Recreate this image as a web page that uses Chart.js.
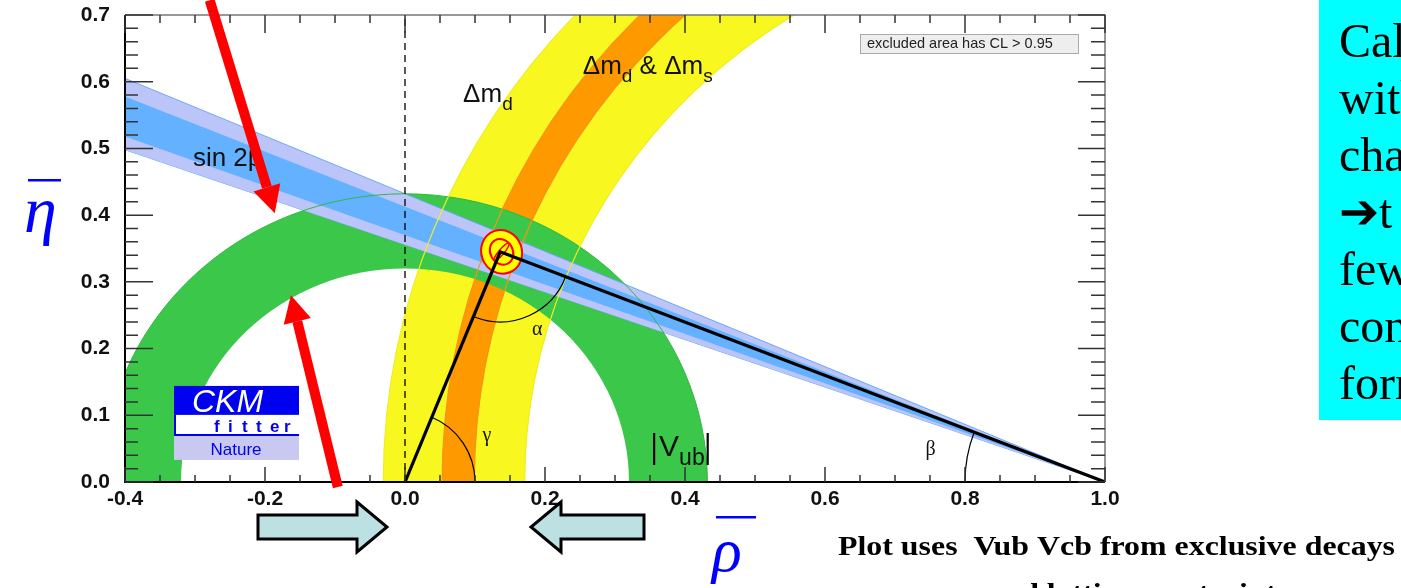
<!DOCTYPE html>
<html lang="en">
<head>
<meta charset="UTF-8">
<title>CKM unitarity triangle</title>
<style>
  body { margin: 0; background: #fff; }
  #wrap { position: relative; width: 1401px; height: 588px; overflow: hidden; }
</style>
<script src="https://cdn.jsdelivr.net/npm/chart.js"></script>
</head>
<body>
<div id="wrap"><canvas id="chart" width="1401" height="588"></canvas></div>
<script>
// axis ticks
const rhoTicks = [-0.4, -0.2, 0.0, 0.2, 0.4, 0.6, 0.8, 1.0];
const etaTicks = [0.0, 0.1, 0.2, 0.3, 0.4, 0.5, 0.6, 0.7];

// rings, radii as [along rho, along eta]
const vubCenter = [0, 0];
const vubInner = [0.320, 0.320];
const vubOuter = [0.432, 0.432];
const dmdCenter = [1, 0];
const dmdInner = [0.829, 0.829];
const dmdOuter = [1.031, 1.031];
const dmsInner = [0.901, 0.938];
const dmsOuter = [0.947, 0.982];

// sin 2beta wedge: eta of each edge at rho = -0.4, all edges meet at (1,0)
const sin2bOuter = [0.605, 0.498];
const sin2bInner = [0.578, 0.518];

// apex of the triangle and the fit contours [rx, ry, tilt in degrees]
const apex = [0.136, 0.345];
const fitCenter = [0.138, 0.345];
const fitContours = [[0.029, 0.033, -20], [0.016, 0.020, -30], [0.016, 0.004, -50]];

const SANS = '"Liberation Sans", Arial, sans-serif';
const SERIF = '"Liberation Serif", "Times New Roman", serif';

const edge = etaLeft => [{ x: -0.4, y: etaLeft }, { x: 1, y: 0 }];

function geom(chart) {
  const xs = chart.scales.x, ys = chart.scales.y;
  return {
    X: v => xs.getPixelForValue(v),
    Y: v => ys.getPixelForValue(v),
    kx: xs.getPixelForValue(1) - xs.getPixelForValue(0),
    ky: ys.getPixelForValue(0) - ys.getPixelForValue(1),
    a: chart.chartArea
  };
}

function clipArea(ctx, a) {
  ctx.beginPath();
  ctx.rect(a.left, a.top, a.right - a.left, a.bottom - a.top);
  ctx.clip();
}

function ellipsePath(ctx, g, c, r) {
  const cx = g.X(c[0]), cy = g.Y(c[1]);
  ctx.moveTo(cx + r[0] * g.kx, cy);
  ctx.ellipse(cx, cy, r[0] * g.kx, r[1] * g.ky, 0, 0, Math.PI * 2);
}

function fillRing(ctx, g, c, rIn, rOut, color) {
  ctx.beginPath();
  ellipsePath(ctx, g, c, rOut);
  ellipsePath(ctx, g, c, rIn);
  ctx.fillStyle = color;
  ctx.fill('evenodd');
}

function strokeEllipse(ctx, g, c, r, color, w) {
  ctx.beginPath();
  ellipsePath(ctx, g, c, r);
  ctx.strokeStyle = color;
  ctx.lineWidth = w;
  ctx.stroke();
}

function richText(ctx, x, y, parts, family) {
  parts.forEach(([t, size, dy]) => {
    ctx.font = size + 'px ' + family;
    ctx.fillText(t, x, y + dy);
    x += ctx.measureText(t).width;
  });
  return x;
}

function redArrow(ctx, x0, y0, x1, y1) {
  const ang = Math.atan2(y1 - y0, x1 - x0), L = 27, W = 14;
  const bx = x1 - L * Math.cos(ang), by = y1 - L * Math.sin(ang);
  ctx.strokeStyle = '#ff0000';
  ctx.lineWidth = 10;
  ctx.lineCap = 'butt';
  ctx.beginPath(); ctx.moveTo(x0, y0); ctx.lineTo(bx, by); ctx.stroke();
  ctx.fillStyle = '#ff0000';
  ctx.beginPath();
  ctx.moveTo(x1, y1);
  ctx.lineTo(bx + W * Math.sin(ang), by - W * Math.cos(ang));
  ctx.lineTo(bx - W * Math.sin(ang), by + W * Math.cos(ang));
  ctx.closePath();
  ctx.fill();
}

function blockArrow(ctx, tail, tip, cy) {
  const dir = Math.sign(tip - tail), body = 12, head = 25, len = 30;
  const base = tip - dir * len;
  ctx.beginPath();
  ctx.moveTo(tail, cy - body);
  ctx.lineTo(base, cy - body);
  ctx.lineTo(base, cy - head);
  ctx.lineTo(tip, cy);
  ctx.lineTo(base, cy + head);
  ctx.lineTo(base, cy + body);
  ctx.lineTo(tail, cy + body);
  ctx.closePath();
  ctx.fillStyle = '#bde0e2';
  ctx.fill();
  ctx.lineWidth = 3;
  ctx.lineJoin = 'miter';
  ctx.strokeStyle = '#000';
  ctx.stroke();
}

const ckmLayers = {
  id: 'ckmLayers',
  // filled constraint rings under the sin 2beta band
  beforeDatasetsDraw(chart) {
    const ctx = chart.ctx, g = geom(chart);
    ctx.save();
    clipArea(ctx, g.a);
    fillRing(ctx, g, dmdCenter, dmdInner, dmdOuter, '#f8f820');
    fillRing(ctx, g, dmdCenter, dmsInner, dmsOuter, '#ff9900');
    fillRing(ctx, g, vubCenter, vubInner, vubOuter, '#3ac74a');
    ctx.restore();
  },
  // ring outlines and fit contours on top of the band, under the triangle
  afterDatasetDraw(chart, args) {
    if (args.index !== 2) return;
    const ctx = chart.ctx, g = geom(chart);
    ctx.save();
    clipArea(ctx, g.a);
    strokeEllipse(ctx, g, vubCenter, vubOuter, '#2fb843', 1);
    strokeEllipse(ctx, g, dmdCenter, dmdInner, '#eeee22', 1.2);
    strokeEllipse(ctx, g, dmdCenter, dmdOuter, '#eeee22', 1.2);
    strokeEllipse(ctx, g, dmdCenter, dmsInner, '#f39418', 1.2);
    strokeEllipse(ctx, g, dmdCenter, dmsOuter, '#f39418', 1.2);

    const cx = g.X(fitCenter[0]), cy = g.Y(fitCenter[1]);
    fitContours.forEach(([rx, ry, tilt], i) => {
      ctx.beginPath();
      ctx.ellipse(cx, cy, rx * g.kx, ry * g.ky, tilt * Math.PI / 180, 0, Math.PI * 2);
      ctx.fillStyle = '#ffff00';
      ctx.fill();
      ctx.strokeStyle = '#ff0000';
      ctx.lineWidth = i === 2 ? 1.5 : 2;
      ctx.stroke();
    });
    ctx.restore();
  },
  afterDatasetsDraw(chart) {
    const ctx = chart.ctx, g = geom(chart), a = g.a;
    ctx.save();

    // angles of the triangle
    const o = [g.X(0), g.Y(0)], p = [g.X(apex[0]), g.Y(apex[1])], q = [g.X(1), g.Y(0)];
    const dirTo = (from, to) => Math.atan2(to[1] - from[1], to[0] - from[0]);
    ctx.strokeStyle = '#000';
    ctx.lineWidth = 1.2;
    ctx.beginPath(); ctx.arc(p[0], p[1], 0.1 * g.kx, dirTo(p, q), dirTo(p, o)); ctx.stroke();
    ctx.beginPath(); ctx.arc(o[0], o[1], 0.1 * g.kx, dirTo(o, p), 0); ctx.stroke();
    ctx.beginPath(); ctx.arc(q[0], q[1], 0.2 * g.kx, Math.PI, dirTo(q, p) + 2 * Math.PI); ctx.stroke();

    // labels
    ctx.fillStyle = '#111';
    ctx.textBaseline = 'alphabetic';
    ctx.textAlign = 'left';
    richText(ctx, g.X(-0.303), g.Y(0.474), [['sin 2\u03b2', 26, 0]], SANS);
    richText(ctx, g.X(0.083), g.Y(0.570), [['\u0394m', 26, 0], ['d', 19, 8]], SANS);
    richText(ctx, g.X(0.254), g.Y(0.612), [['\u0394m', 26, 0], ['d', 19, 8], [' & \u0394m', 26, 0], ['s', 19, 8]], SANS);
    // |V_ub|
    const vx = g.X(0.353), vy = g.Y(0.0255);
    const vEnd = richText(ctx, vx + 7, vy - 9, [['V', 30, 0], ['ub', 23, 9]], SANS);
    ctx.lineWidth = 2.2;
    ctx.beginPath();
    ctx.moveTo(vx + 2, vy - 32); ctx.lineTo(vx + 2, vy);
    ctx.moveTo(vEnd + 3, vy - 32); ctx.lineTo(vEnd + 3, vy);
    ctx.stroke();

    ctx.textAlign = 'center';
    ctx.textBaseline = 'middle';
    ctx.font = '20px ' + SERIF;
    ctx.fillText('\u03b1', g.X(0.189), g.Y(0.228));
    ctx.fillText('\u03b3', g.X(0.117), g.Y(0.070));
    ctx.fillText('\u03b2', g.X(0.751), g.Y(0.049));

    // CL note
    const bx = a.right - 245, by = a.top + 19;
    ctx.fillStyle = '#eeeeee';
    ctx.fillRect(bx, by, 218, 19);
    ctx.strokeStyle = '#aaaaaa';
    ctx.lineWidth = 1;
    ctx.strokeRect(bx + 0.5, by + 0.5, 218, 19);
    ctx.fillStyle = '#222';
    ctx.textAlign = 'left';
    ctx.font = '14.5px ' + SANS;
    ctx.fillText('excluded area has CL > 0.95', bx + 7, by + 10);

    // CKMfitter logo
    const lx = g.X(-0.33), ly = g.Y(0.144);
    ctx.fillStyle = '#0000f0';
    ctx.fillRect(lx, ly, 125, 29);
    ctx.fillStyle = '#c8c8f0';
    ctx.fillRect(lx, ly + 50, 125, 24);
    ctx.fillStyle = '#ffffff';
    ctx.fillRect(lx, ly + 29, 125, 21);
    ctx.strokeStyle = '#0000f0';
    ctx.lineWidth = 2;
    ctx.beginPath();
    ctx.moveTo(lx + 1, ly + 29); ctx.lineTo(lx + 1, ly + 49); ctx.lineTo(lx + 125, ly + 49);
    ctx.stroke();
    ctx.textBaseline = 'alphabetic';
    ctx.fillStyle = '#ffffff';
    ctx.font = 'italic 32px ' + SANS;
    ctx.fillText('CKM', lx + 18, ly + 26);
    ctx.fillStyle = '#0000f0';
    ctx.font = 'bold 17px ' + SANS;
    'fitter'.split('').forEach((ch, i) => ctx.fillText(ch, lx + 40 + i * 14, ly + 46));
    ctx.font = '17px ' + SANS;
    ctx.textAlign = 'center';
    ctx.fillText('Nature', lx + 62, ly + 69);

    // frame and inward ticks
    ctx.lineCap = 'butt';
    ctx.strokeStyle = '#777';
    ctx.lineWidth = 1.5;
    ctx.beginPath();
    ctx.moveTo(a.left, a.top); ctx.lineTo(a.right, a.top); ctx.lineTo(a.right, a.bottom);
    ctx.stroke();
    ctx.strokeStyle = '#000';
    ctx.lineWidth = 2;
    ctx.beginPath();
    ctx.moveTo(a.left, a.top); ctx.lineTo(a.left, a.bottom); ctx.lineTo(a.right, a.bottom);
    ctx.stroke();

    ctx.lineWidth = 1.5;
    ctx.strokeStyle = '#333';
    ctx.beginPath();
    for (let i = 0; i <= 35; i++) {
      const yy = g.Y(i * 0.02), major = i % 5 === 0;
      ctx.moveTo(a.left, yy); ctx.lineTo(a.left + (major ? 28 : 13), yy);
      ctx.moveTo(a.right, yy); ctx.lineTo(a.right - (major ? 27 : 14), yy);
    }
    for (let i = 0; i <= 28; i++) {
      const xx = g.X(-0.4 + i * 0.05), major = i % 4 === 0;
      ctx.moveTo(xx, a.bottom); ctx.lineTo(xx, a.bottom - (major ? 15 : 7));
      ctx.moveTo(xx, a.top); ctx.lineTo(xx, a.top + (major ? 18 : 8));
    }
    ctx.stroke();

    // red arrows
    redArrow(ctx, g.X(-0.279), g.Y(0.722), g.X(-0.186), g.Y(0.403));
    redArrow(ctx, g.X(-0.096), g.Y(-0.0075), g.X(-0.163), g.Y(0.280));
    ctx.restore();
  },
  // slide decorations around the plot
  afterDraw(chart) {
    const ctx = chart.ctx;
    ctx.save();
    blockArrow(ctx, 258, 387, 527);
    blockArrow(ctx, 644, 531, 527);

    ctx.fillStyle = '#0000ff';
    ctx.fillRect(28, 179, 33, 2.5);
    ctx.fillRect(716, 516, 40, 2.5);
    ctx.font = 'italic 66px ' + SERIF;
    ctx.textBaseline = 'alphabetic';
    ctx.textAlign = 'left';
    ctx.fillText('\u03b7', 24, 232);
    ctx.font = 'italic 62px ' + SERIF;
    ctx.fillText('\u03c1', 712, 571);

    ctx.fillStyle = '#00ffff';
    ctx.fillRect(1319, 0, 82, 420);
    ctx.fillStyle = '#000';
    ctx.font = '48px ' + SERIF;
    ['Cal', 'with', 'cha', '\u2794t', 'few', 'con', 'form'].forEach((t, i) => ctx.fillText(t, 1339, 57 + i * 57));

    ctx.font = 'bold 27px ' + SERIF;
    const line1 = 'Plot uses  Vub Vcb from exclusive decays';
    const sx = 557 / ctx.measureText(line1).width;
    ctx.translate(838, 0);
    ctx.scale(sx, 1);
    ctx.fillText(line1, 0, 555);
    ctx.textAlign = 'center';
    ctx.fillText('and lattice constraints', 300 / sx, 602);
    ctx.restore();
  }
};

const noPad = s => { s.paddingTop = 0; s.paddingBottom = 0; s.paddingLeft = 0; s.paddingRight = 0; };

const ctx = document.getElementById('chart').getContext('2d');
const chart = new Chart(ctx, {
  type: 'line',
  data: {
    datasets: [
      { label: 'triangle', data: [{ x: 0, y: 0 }, { x: apex[0], y: apex[1] }, { x: 1, y: 0 }],
        borderColor: '#000', borderWidth: 3.2, fill: false },
      { label: 'rho = 0', data: [{ x: 0, y: 0 }, { x: 0, y: 0.7 }],
        borderColor: '#000', borderWidth: 1.3, borderDash: [7, 5], fill: false },
      { label: 'sin 2beta 68%', data: edge(sin2bInner[0]),
        borderColor: 'transparent', fill: '+1', backgroundColor: '#64b2ff' },
      { label: 'sin 2beta 68% low', data: edge(sin2bInner[1]),
        borderColor: 'transparent', fill: false },
      { label: 'sin 2beta 95%', data: edge(sin2bOuter[0]),
        borderColor: '#6aa8f2', borderWidth: 1, fill: '+1', backgroundColor: '#bcc5f9' },
      { label: 'sin 2beta 95% low', data: edge(sin2bOuter[1]),
        borderColor: '#6aa8f2', borderWidth: 1, fill: false }
    ]
  },
  options: {
    responsive: false,
    animation: false,
    layout: { padding: { left: 0, right: 296, top: 15, bottom: 0 } },
    elements: { point: { radius: 0 }, line: { tension: 0 } },
    plugins: { legend: { display: false }, tooltip: { enabled: false } },
    scales: {
      x: {
        type: 'linear', min: -0.4, max: 1.0,
        afterBuildTicks: s => { s.ticks = rhoTicks.map(v => ({ value: v })); },
        afterFit: s => { s.height = 106; noPad(s); },
        grid: { display: false, drawTicks: false },
        border: { display: false },
        ticks: { padding: 5, autoSkip: false, maxRotation: 0, color: '#111',
                 font: { family: SANS, weight: 'bold', size: 21 },
                 callback: v => v.toFixed(1) }
      },
      y: {
        type: 'linear', min: 0, max: 0.7,
        afterBuildTicks: s => { s.ticks = etaTicks.map(v => ({ value: v })); },
        afterFit: s => { s.width = 125; noPad(s); },
        grid: { display: false, drawTicks: false },
        border: { display: false },
        ticks: { padding: 15, color: '#111',
                 font: { family: SANS, weight: 'bold', size: 21 },
                 callback: v => v.toFixed(1) }
      }
    }
  },
  plugins: [ckmLayers]
});
</script>
</body>
</html>
